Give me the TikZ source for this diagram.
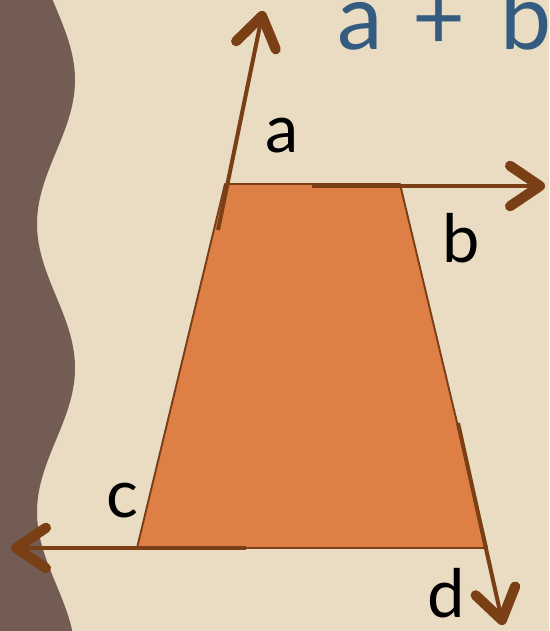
\documentclass[tikz,border=0pt]{standalone}
\usepackage{fontspec}
\setmainfont{Lato}
\usetikzlibrary{arrows.meta}

\definecolor{paper}{HTML}{E9DCC3}
\definecolor{wallbrown}{HTML}{735C53}
\definecolor{trapfill}{HTML}{DE7F45}
\definecolor{edgebrown}{HTML}{7A3F18}
\definecolor{vecbrown}{HTML}{7B3F16}
\definecolor{titleblue}{HTML}{345C80}

\tikzset{
  trap/.style={fill=trapfill, draw=edgebrown, line width=1.1pt, line join=round},
  vec/.style={draw=vecbrown, line width=2.3pt,
    -{Straight Barb[length=17pt, width=23pt, line width=5.8pt, round]}},
  lbl/.style={anchor=base, font=\fontsize{38}{38}\selectfont, inner sep=0pt},
}

\begin{document}
\begin{tikzpicture}[x=0.02cm, y=-0.02cm]

\useasboundingbox (0,0) rectangle (549,631);
\clip (0,0) rectangle (549,631);
\fill[paper] (0,0) rectangle (549,631);

% wavy border
\fill[wallbrown] (0,0) -- plot[domain=0:631, samples=120, variable=\t]
  ({56+19*sin(1.25*(\t-8))}, \t) -- (0,631) -- cycle;

% trapezoid
\coordinate (tl) at (225,184);
\coordinate (tr) at (400,184);
\coordinate (br) at (487,548);
\coordinate (bl) at (137,548);
\draw[trap] (tl) -- (tr) -- (br) -- (bl) -- cycle;

% exterior angles
\coordinate (aFrom) at (218,230);
\coordinate (aTo) at (263,11);
\coordinate (bFrom) at (312,186);
\coordinate (bTo) at (545,186);
\coordinate (cFrom) at (246,548);
\coordinate (cTo) at (11,548);
\coordinate (dFrom) at (458,423);
\coordinate (dTo) at (503,625);

\foreach \v in {a,b,c,d}
{
    \draw[vec] (\v From) -- (\v To);
}

\foreach \v/\x/\y in {
a/282/153, b/461/262,
c/122/517, d/446/617
}
{
    \node[lbl] (lbl\v) at (\x,\y) {\v};
}

% title
\node[anchor=base west, inner sep=0pt, text=titleblue,
  font=\fontsize{52}{52}\selectfont] (title) at (337,50)
  {a\hspace*{17pt}+\hspace*{20pt}b};

\end{tikzpicture}
\end{document}
